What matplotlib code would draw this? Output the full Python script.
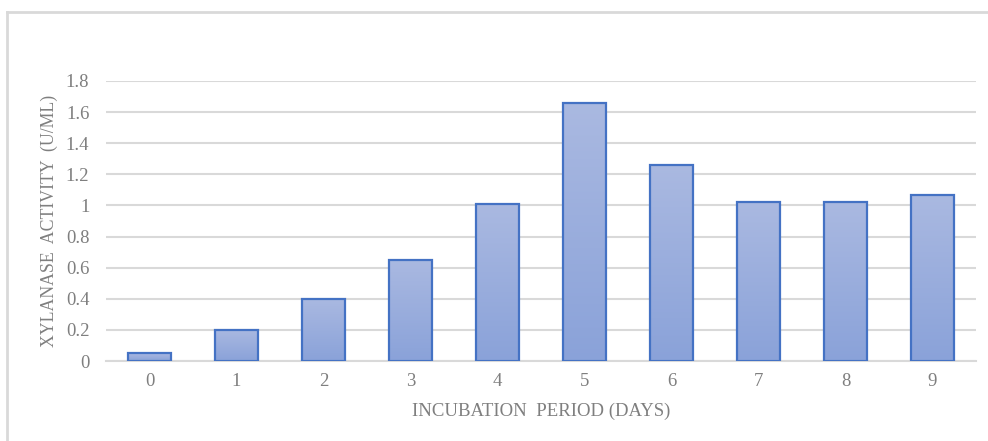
import numpy as np
import matplotlib
matplotlib.use("Agg")
import matplotlib.pyplot as plt
from matplotlib.colors import LinearSegmentedColormap
from matplotlib.lines import Line2D

# data
days = [0, 1, 2, 3, 4, 5, 6, 7, 8, 9]
activity = [0.05, 0.2, 0.4, 0.65, 1.01, 1.66, 1.26, 1.02, 1.02, 1.07]
yticks = [0, 0.2, 0.4, 0.6, 0.8, 1, 1.2, 1.4, 1.6, 1.8]
ytick_labels = ["0", "0.2", "0.4", "0.6", "0.8", "1", "1.2", "1.4", "1.6", "1.8"]

plt.rcParams['font.family'] = ['Liberation Serif', 'DejaVu Serif']
grey = '#7f7f7f'

fig = plt.figure(figsize=(9.88, 4.41), dpi=100)
ax = fig.add_axes([106 / 988, 1 - 361 / 441, 870 / 988, 280 / 441])

# gradient colour for bars: lighter at top, darker at bottom
cmap = LinearSegmentedColormap.from_list('bar_grad', ['#8aa2d9', '#aab9e1'])
grad = np.linspace(0, 1, 256).reshape(-1, 1)

bars = ax.bar(days, activity, width=0.5, color='none', edgecolor='#4472c4', linewidth=1.6, zorder=3)
for b in bars:
    x0, y0 = b.get_x(), b.get_y()
    w, h = b.get_width(), b.get_height()
    im = ax.imshow(grad, cmap=cmap, origin='lower', aspect='auto',
                   extent=[x0, x0 + w, y0, y0 + h], zorder=2)
    im.set_clip_path(b)

ax.set_xlim(-0.5, 9.5)
ax.set_ylim(0, 1.8)
ax.set_xticks(days)
ax.set_xticklabels([str(d) for d in days])
ax.set_yticks(yticks)
ax.set_yticklabels(ytick_labels)

ax.grid(axis='y', color='#d9d9d9', linewidth=1.5, zorder=0)
ax.set_axisbelow(True)
for s in ['top', 'right', 'left']:
    ax.spines[s].set_visible(False)
ax.spines['bottom'].set_color('#d9d9d9')
ax.spines['bottom'].set_linewidth(1.5)
ax.tick_params(axis='both', length=0, labelsize=13.5, colors=grey)
ax.tick_params(axis='x', pad=9)
ax.tick_params(axis='y', pad=12)

ax.set_xlabel('INCUBATION  PERIOD (DAYS)', fontsize=13.5, color=grey, labelpad=9)
ax.set_ylabel('XYLANASE  ACTIVITY  (U/ML)', fontsize=12.8, color=grey, labelpad=6)

# chart border (left and top)
fig.add_artist(Line2D([7 / 988, 7 / 988], [0, 1 - 12 / 441], transform=fig.transFigure,
                      color='#d9d9d9', linewidth=2))
fig.add_artist(Line2D([7 / 988, 1], [1 - 12 / 441, 1 - 12 / 441], transform=fig.transFigure,
                      color='#d9d9d9', linewidth=2))

fig.savefig('out.png', dpi=100)
